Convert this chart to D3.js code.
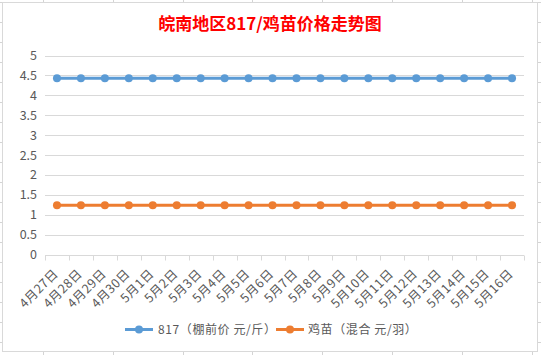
<!DOCTYPE html>
<html><head><meta charset="utf-8">
<script src="https://cdn.jsdelivr.net/npm/d3@7"></script>
<style>body{margin:0;background:#fff;}svg{display:block;}</style>
</head><body>
<svg id="c" width="541" height="355"></svg>
<script>
const title = "皖南地区817/鸡苗价格走势图";
const categories = ["4月27日","4月28日","4月29日","4月30日","5月1日","5月2日","5月3日","5月4日","5月5日","5月6日","5月7日","5月8日","5月9日","5月10日","5月11日","5月12日","5月13日","5月14日","5月15日","5月16日"];
const series817 = [4.43,4.43,4.43,4.43,4.43,4.43,4.43,4.43,4.43,4.43,4.43,4.43,4.43,4.43,4.43,4.43,4.43,4.43,4.43,4.43];
const seriesChick = [1.24,1.24,1.24,1.24,1.24,1.24,1.24,1.24,1.24,1.24,1.24,1.24,1.24,1.24,1.24,1.24,1.24,1.24,1.24,1.24];
const seriesNames = ["817（棚前价 元/斤）","鸡苗（混合 元/羽）"];
const yTicks = [0,0.5,1,1.5,2,2.5,3,3.5,4,4.5,5];
const colors = ["#5B9BD5","#ED7D31"];

const svg = d3.select("#c");
const font = "'Noto Sans CJK SC','Open Sans',sans-serif";

// spreadsheet background gridlines
const bg = svg.append("g");
[43,113,183,252,322,392,462,532].forEach(x=>bg.append("line").attr("x1",x+0.5).attr("x2",x+0.5).attr("y1",0).attr("y2",355).attr("stroke","#d4d4d4"));
d3.range(2,355,20).forEach(y=>bg.append("line").attr("x1",0).attr("x2",541).attr("y1",y+0.5).attr("y2",y+0.5).attr("stroke","#d4d4d4"));

svg.append("rect").attr("x",2.5).attr("y",2.5).attr("width",535).attr("height",349)
  .attr("fill","#fff").attr("stroke","#d9d9d9");

svg.append("text").attr("x",270).attr("y",30).attr("text-anchor","middle")
  .attr("font-family",font).attr("font-weight","bold").attr("font-size",17)
  .attr("fill","#FF0000").text(title);

const x = d3.scaleBand().domain(categories).range([45,524]);
const y = d3.scaleLinear().domain([0,5]).range([254.5,55.5]);

// gridlines
const grid = svg.append("g");
yTicks.forEach(t=>{
  if(t===0) return;
  grid.append("line").attr("x1",45).attr("x2",524)
    .attr("y1",Math.round(y(t))+0.5).attr("y2",Math.round(y(t))+0.5)
    .attr("stroke","#d9d9d9");
});

// y labels
const yAxis = d3.axisLeft(y).tickValues(yTicks).tickSize(0).tickPadding(0).tickFormat(d=>String(d));
const yg = svg.append("g").attr("transform","translate(37,0)").call(yAxis);
yg.select(".domain").remove();
yg.selectAll("text").attr("font-family",font).attr("font-size",12.5).attr("fill","#595959");

// x axis
const xAxis = d3.axisBottom(x).tickSize(0);
const xg = svg.append("g").attr("transform",`translate(0,${Math.round(y(0))+0.5})`).call(xAxis);
xg.select(".domain").attr("stroke","#d9d9d9").attr("d","M45,0H524");
xg.selectAll(".tick line").remove();
categories.concat([null]).forEach((c,i)=>{
  const xx = 45 + i*x.step();
  xg.append("line").attr("x1",Math.round(xx)+0.5).attr("x2",Math.round(xx)+0.5).attr("y1",0).attr("y2",5).attr("stroke","#d9d9d9");
});
xg.selectAll(".tick text").attr("font-family",font).attr("font-size",12.5).attr("fill","#595959")
  .attr("letter-spacing",0.5)
  .attr("text-anchor","end").attr("dy",0).attr("y",0)
  .attr("transform","translate(2,19) rotate(-45)");

// series
const data = [series817, seriesChick];
data.forEach((s,k)=>{
  const line = d3.line().x((d,i)=>x(categories[i])+x.bandwidth()/2).y(d=>y(d));
  svg.append("path").datum(s).attr("d",line).attr("fill","none")
    .attr("stroke",colors[k]).attr("stroke-width",3).attr("stroke-linecap","round");
  svg.append("g").selectAll("circle").data(s).join("circle")
    .attr("cx",(d,i)=>x(categories[i])+x.bandwidth()/2).attr("cy",d=>y(d))
    .attr("r",4).attr("fill",colors[k]);
});

// legend
const legend = [{x:125,tx:158},{x:276,tx:308}];
legend.forEach((l,k)=>{
  const g = svg.append("g");
  g.append("line").attr("x1",l.x).attr("x2",l.x+28).attr("y1",329.5).attr("y2",329.5)
    .attr("stroke",colors[k]).attr("stroke-width",3);
  g.append("circle").attr("cx",l.x+14).attr("cy",329.5).attr("r",4).attr("fill",colors[k]);
  g.append("text").attr("x",l.tx).attr("y",334).attr("font-family",font).attr("font-size",12)
    .attr("letter-spacing",0.6)
    .attr("fill","#595959").text(seriesNames[k]);
});
</script>
</body></html>
